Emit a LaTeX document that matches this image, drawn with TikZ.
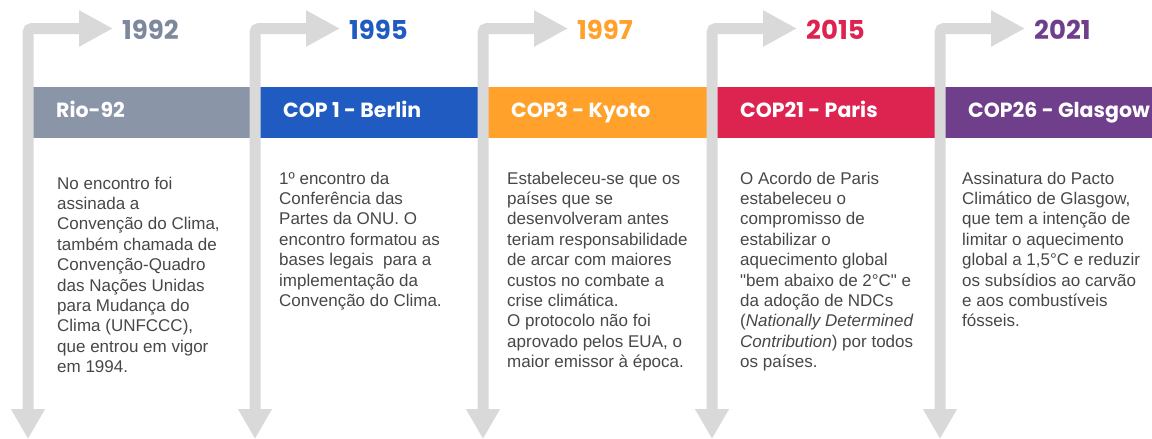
\documentclass[tikz,border=0pt]{standalone}
\usepackage{fontspec}
\setmainfont{Liberation Sans}[Ligatures=TeXOff]
\newfontfamily\headfont{Poppins}
\usepackage{xcolor}
\usepackage{tikz}
\usetikzlibrary{arrows.meta,positioning}

\definecolor{arrowgray}{HTML}{D9D9D9}
\definecolor{txtgray}{HTML}{474747}
\definecolor{cRio}{HTML}{8A95A8}
\definecolor{yRio}{HTML}{7D889D}
\definecolor{cBerlin}{HTML}{1F5BC0}
\definecolor{cKyoto}{HTML}{FFA12A}
\definecolor{cParis}{HTML}{DD2450}
\definecolor{cGlasgow}{HTML}{6F3F8B}

\begin{document}
\begin{tikzpicture}[
    x=1pt, y=-1pt,
    band/.style={rectangle, inner sep=0pt, minimum height=51pt, anchor=west},
    bandlbl/.style={anchor=base west, inner sep=0pt, text=white, font=\headfont\bfseries\fontsize{20.5}{24}\selectfont},
    yearlbl/.style={anchor=base west, inner sep=0pt, font=\headfont\bfseries\fontsize{26}{30}\selectfont},
    bodytxt/.style={anchor=base west, inner sep=0pt, text=txtgray, font=\fontsize{17}{20.4}\selectfont},
    garrow/.style={draw=arrowgray, line width=11pt, rounded corners=4pt,
        {Triangle[length=30pt, width=32pt]}-{Triangle[length=34pt, width=34pt]}}
]
\useasboundingbox (0,0) rectangle (1152,439);

% colour bands
\foreach \cx/\w/\col [count=\i] in {28/227/cRio, 255/228/cBerlin, 483/229/cKyoto, 712/228/cParis, 940/212/cGlasgow}{
  \node[band, fill=\col, minimum width=\w pt] (band\i) at (\cx,112.5) {};
}

% timeline arrows, years and titles
\foreach \cx/\col/\yr/\lbl [count=\i] in {28/yRio/1992/Rio-92, 255/cBerlin/1995/COP 1 - Berlin, 483/cKyoto/1997/COP3 - Kyoto, 712/cParis/2015/COP21 - Paris, 940/cGlasgow/2021/COP26 - Glasgow}{
  \coordinate (bot\i) at (\cx,439);
  \coordinate (tip\i) at (\cx+85,28.5);
  \draw[garrow] (bot\i) |- (tip\i);
  \node[yearlbl, text=\col] (yr\i) at (\cx+94,39) {\yr};
  \node[bandlbl] (lbl\i) at (\cx+28,117) {\lbl};
}

% event texts
\node[bodytxt] (txt1) at (57,189) {\parbox[t]{200pt}{\raggedright
  No encontro foi\\ assinada a\\ Convenção do Clima,\\ também chamada de\\ Convenção-Quadro\\
  das Nações Unidas\\ para Mudança do\\ Clima (UNFCCC),\\ que entrou em vigor\\ em 1994.}};
\node[bodytxt] (txt2) at (279,184) {\parbox[t]{200pt}{\raggedright
  1º encontro da\\ Conferência das\\ Partes da ONU. O\\ encontro formatou as\\
  bases legais\ \ para a\\ implementação da\\ Convenção do Clima.}};
\node[bodytxt] (txt3) at (507,184) {\parbox[t]{200pt}{\raggedright
  Estabeleceu-se que os\\ países que se\\ desenvolveram antes\\ teriam responsabilidade\\
  de arcar com maiores\\ custos no combate a\\ crise climática.\\ O protocolo não foi\\
  aprovado pelos EUA, o\\ maior emissor à época.}};
\node[bodytxt] (txt4) at (740,184) {\parbox[t]{200pt}{\raggedright
  O Acordo de Paris\\ estabeleceu o\\ compromisso de\\ estabilizar o\\ aquecimento global\\
  "bem abaixo de 2°C" e\\ da adoção de NDCs\\ (\textit{Nationally Determined}\\
  \textit{Contribution}) por todos\\ os países.}};
\node[bodytxt] (txt5) at (962,184) {\parbox[t]{200pt}{\raggedright
  Assinatura do Pacto\\ Climático de Glasgow,\\ que tem a intenção de\\ limitar o aquecimento\\
  global a 1,5°C e reduzir\\ os subsídios ao carvão\\ e aos combustíveis\\ fósseis.}};
\end{tikzpicture}
\end{document}
